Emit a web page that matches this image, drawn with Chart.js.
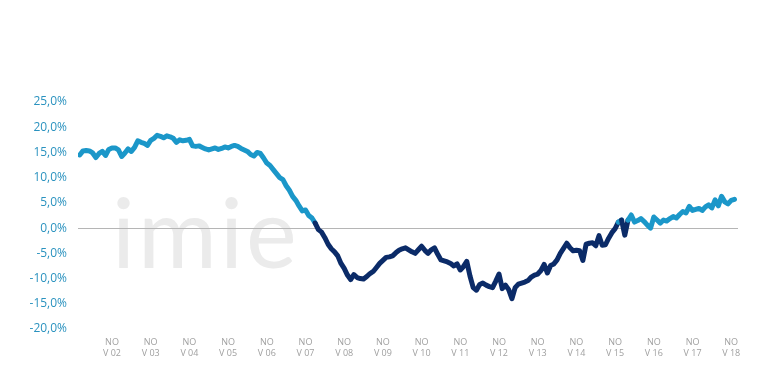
<!DOCTYPE html>
<html>
<head>
<meta charset="utf-8">
<script src="https://cdn.jsdelivr.net/npm/chart.js@4/dist/chart.umd.min.js"></script>
<style>
html,body{margin:0;padding:0;background:#fff;}
#wrap{width:758px;height:383px;position:relative;}
</style>
</head>
<body>
<div id="wrap"><canvas id="c" width="758" height="383"></canvas></div>
<script>
// Monthly year-on-year change (%), Jan 2002 .. Dec 2018
const values = [
14.5,15.3,15.4,15.3,14.9,14.0,14.8,15.2,14.4,15.6,15.9,15.9,
15.5,14.2,14.9,15.7,15.2,16.0,17.3,17.0,16.8,16.4,17.4,17.8,
18.4,18.2,17.9,18.3,18.1,17.8,17.0,17.5,17.3,17.4,17.6,16.3,
16.2,16.3,16.0,15.7,15.5,15.7,15.9,15.6,15.8,16.1,15.9,16.2,
16.4,16.2,15.8,15.5,15.2,14.6,14.3,15.0,14.8,13.9,12.9,12.4,
11.6,10.8,10.0,9.6,8.4,7.5,6.3,5.5,4.4,3.4,3.6,2.5,
2.0,1.0,-0.3,-0.8,-1.9,-3.2,-4.1,-4.7,-5.5,-7.0,-8.0,-9.3,
-10.2,-9.2,-9.8,-10.0,-10.1,-9.6,-9.0,-8.6,-7.8,-7.0,-6.4,-5.8,
-5.7,-5.5,-4.9,-4.4,-4.1,-3.9,-4.3,-4.7,-5.0,-4.3,-3.6,-4.4,
-5.0,-4.3,-3.9,-5.2,-6.3,-6.5,-6.7,-7.0,-7.5,-7.1,-8.3,-7.6,
-6.6,-9.5,-11.8,-12.3,-11.2,-10.9,-11.3,-11.6,-11.8,-10.5,-9.1,-12.0,
-11.3,-12.2,-14.0,-11.8,-11.1,-10.9,-10.7,-10.4,-9.7,-9.3,-9.1,-8.4,
-7.2,-8.9,-7.4,-7.1,-6.3,-5.0,-4.0,-3.0,-3.9,-4.5,-4.4,-4.5,
-6.4,-3.2,-3.0,-2.9,-3.5,-1.5,-3.4,-3.3,-2.0,-0.9,-0.1,1.2,
1.6,-1.4,1.6,2.6,1.2,1.5,1.9,1.3,0.6,0.0,2.2,1.6,
1.0,1.6,1.4,1.9,2.3,2.0,2.7,3.3,3.0,4.3,3.5,3.7,
3.9,3.5,4.2,4.6,4.0,5.6,4.4,6.3,5.2,4.8,5.5,5.7
];
const firstYear = 2002;
const months = [];
for (let y = firstYear; y <= 2018; y++) for (let m = 1; m <= 12; m++) months.push(y + '-' + String(m).padStart(2,'0'));
// tick positions (November of each year) and their labels
const tickMonths = ['2002-11','2003-11','2004-11','2005-11','2006-11','2007-11','2008-11','2009-11','2010-11','2011-11','2012-11','2013-11','2014-11','2015-11','2016-11','2017-11','2018-11'];
const tickLabels = [['NO','V 02'],['NO','V 03'],['NO','V 04'],['NO','V 05'],['NO','V 06'],['NO','V 07'],['NO','V 08'],['NO','V 09'],['NO','V 10'],['NO','V 11'],['NO','V 12'],['NO','V 13'],['NO','V 14'],['NO','V 15'],['NO','V 16'],['NO','V 17'],['NO','V 18']];
const yTicks = [25,20,15,10,5,0,-5,-10,-15,-20];

const LIGHT = '#1b97c9';
const DARK = '#0b2b68';

const points = values.map((v,i)=>({x:i,y:v}));
const tickIdx = tickMonths.map(m=>months.indexOf(m));

const watermark = {
  id:'watermark',
  beforeDraw(chart){
    const ctx = chart.ctx;
    ctx.save();
    ctx.fillStyle = '#ebebeb';
    ctx.font = '400 96px Lato';
    ctx.letterSpacing = '3px';
    ctx.textBaseline = 'alphabetic';
    ctx.fillText('imie', 112, 268);
    ctx.restore();
  }
};

new Chart(document.getElementById('c'), {
  type:'line',
  data:{datasets:[{
    data:points,
    borderWidth:5,
    pointRadius:0,
    tension:0,
    borderJoinStyle:'round',
    borderCapStyle:'round',
    borderColor:LIGHT,
    segment:{
      borderColor: ctx => (ctx.p0.parsed.y < 0 || ctx.p1.parsed.y < 0) ? DARK : LIGHT
    }
  }]},
  options:{
    responsive:false,
    animation:false,
    events:[],
    layout:{padding:{left:0,right:20,top:102,bottom:0}},
    plugins:{legend:{display:false},tooltip:{enabled:false}},
    scales:{
      x:{
        type:'linear',
        min:-0.54,
        max:204.1,
        grid:{display:false},
        border:{display:false},
        afterBuildTicks(scale){ scale.ticks = tickIdx.map(v=>({value:v})); },
        afterFit(scale){ scale.height = 54; },
        ticks:{
          autoSkip:false,
          maxRotation:0,
          padding:0,
          color:'#a0a0a0',
          font:{family:'Open Sans',size:9,lineHeight:1.25},
          callback(v){ const k = tickIdx.indexOf(v); return k>=0 ? tickLabels[k] : ''; }
        }
      },
      y:{
        min:-20,max:25,
        afterBuildTicks(scale){ scale.ticks = yTicks.map(v=>({value:v})); },
        afterFit(scale){ scale.width = 78; },
        border:{display:false},
        grid:{
          drawTicks:false,
          color: c => c.tick && c.tick.value === 0 ? '#b5b5b5' : 'rgba(0,0,0,0)',
          lineWidth:1
        },
        ticks:{
          padding:11,
          color:'#2a92bf',
          font:{family:'Open Sans',size:12},
          callback(v){ return v.toFixed(1).replace('.',',') + '%'; }
        }
      }
    }
  },
  plugins:[watermark]
});
</script>
</body>
</html>
